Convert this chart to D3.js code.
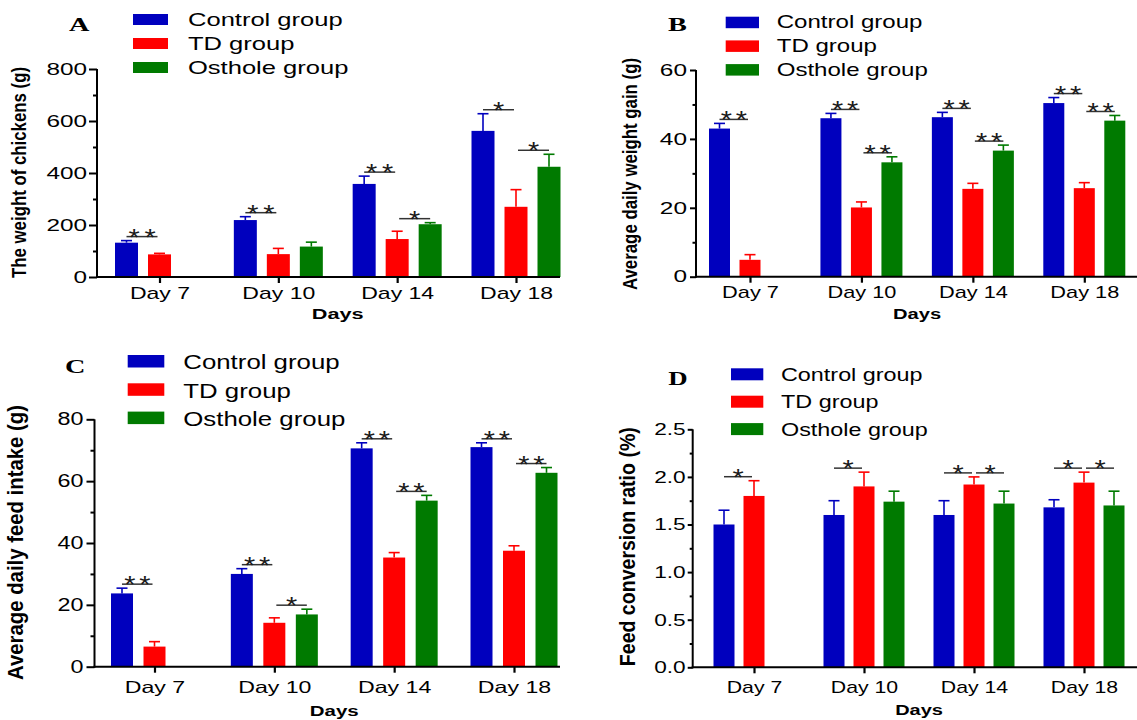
<!DOCTYPE html>
<html><head><meta charset="utf-8">
<script src="https://cdn.jsdelivr.net/npm/d3@7"></script>
<style>body{margin:0;background:#fff}svg{display:block}</style>
</head><body>
<svg id="c" width="1137" height="720"></svg>
<script>
// ---------------- DATA ----------------
const days = ["Day 7", "Day 10", "Day 14", "Day 18"];
const groups = ["Control group", "TD group", "Osthole group"];
const colors = ["#0000BE", "#FF0000", "#007A00"];

// A: body weight (g)
const weightControl = [132, 219, 358, 562];
const weightControlErr = [8, 13, 30, 66];
const weightTD = [87, 88, 146, 270];
const weightTDErr = [4, 22, 30, 66];
const weightOsthole = [null, 117, 203, 424];
const weightOstholeErr = [null, 17, 6, 48];
const weightSig = [[0, 0, 1, "**"], [1, 0, 1, "**"], [2, 0, 1, "**"], [2, 1, 2, "*"], [3, 0, 1, "*"], [3, 1, 2, "*"]];
const weightTicks = [0, 200, 400, 600, 800];
const weightMinor = [100, 300, 500, 700];

// B: average daily weight gain (g)
const gainControl = [43.0, 46.0, 46.3, 50.4];
const gainControlErr = [1.5, 1.4, 1.4, 1.6];
const gainTD = [4.9, 20.1, 25.5, 25.7];
const gainTDErr = [1.5, 1.6, 1.6, 1.6];
const gainOsthole = [null, 33.2, 36.6, 45.3];
const gainOstholeErr = [null, 1.6, 1.6, 1.5];
const gainSig = [[0, 0, 1, "**"], [1, 0, 1, "**"], [1, 1, 2, "**"], [2, 0, 1, "**"], [2, 1, 2, "**"], [3, 0, 1, "**"], [3, 1, 2, "**"]];
const gainTicks = [0, 20, 40, 60];
const gainMinor = [10, 30, 50];

// C: average daily feed intake (g)
const intakeControl = [23.7, 30.0, 70.6, 71.0];
const intakeControlErr = [1.7, 1.7, 1.8, 1.4];
const intakeTD = [6.5, 14.2, 35.3, 37.5];
const intakeTDErr = [1.6, 1.6, 1.6, 1.6];
const intakeOsthole = [null, 16.9, 53.7, 62.7];
const intakeOstholeErr = [null, 1.7, 1.7, 1.7];
const intakeSig = [[0, 0, 1, "**"], [1, 0, 1, "**"], [1, 1, 2, "*"], [2, 0, 1, "**"], [2, 1, 2, "**"], [3, 0, 1, "**"], [3, 1, 2, "**"]];
const intakeTicks = [0, 20, 40, 60, 80];
const intakeMinor = [10, 30, 50, 70];

// D: feed conversion ratio (%)
const fcrControl = [1.50, 1.60, 1.60, 1.68];
const fcrControlErr = [0.15, 0.15, 0.15, 0.08];
const fcrTD = [1.80, 1.90, 1.92, 1.94];
const fcrTDErr = [0.16, 0.15, 0.08, 0.11];
const fcrOsthole = [null, 1.74, 1.72, 1.70];
const fcrOstholeErr = [null, 0.11, 0.13, 0.15];
const fcrSig = [[0, 0, 1, "*"], [1, 0, 1, "*"], [2, 0, 1, "*"], [2, 1, 2, "*"], [3, 0, 1, "*"], [3, 1, 2, "*"]];
const fcrTicks = [0, 0.5, 1.0, 1.5, 2.0, 2.5];
const fcrMinor = [0.25, 0.75, 1.25, 1.75, 2.25];

// ---------------- DRAWING ----------------
const SANS = "'Liberation Sans', Arial, sans-serif";
const SERIF = "'Liberation Serif', 'Times New Roman', serif";
const svg = d3.select("#c");

function addText(parent, x, y, str, o) {
  const t = parent.append("text")
    .attr("transform", `translate(${x},${y}) scale(${o.sx || 1},1)` + (o.rotate ? ` rotate(${o.rotate})` : ""))
    .attr("font-family", o.family || SANS)
    .attr("font-size", o.fs)
    .attr("font-weight", o.weight || "normal")
    .attr("text-anchor", o.anchor || "start")
    .attr("fill", o.fill || "#000")
    .text(str);
  if (o.len) t.attr("textLength", o.len).attr("lengthAdjust", "spacingAndGlyphs");
  return t;
}

function drawPanel(p, series, errs, sig, ticks, minor, fmt) {
  const g = svg.append("g");
  const y = d3.scaleLinear().domain([0, ticks[ticks.length - 1]]).range([p.yBot, p.yTop]);
  const x = d3.scalePoint().domain(days).range(p.centers);
  const pad = 1 - p.bw / p.off;
  const xs = d3.scaleBand().domain(groups).range([-1.5 * p.off, 1.5 * p.off])
    .paddingInner(pad).paddingOuter(pad / 2);
  const cxOf = (di, gi) => x(days[di]) + xs(groups[gi]) + xs.bandwidth() / 2;

  const recs = [];
  groups.forEach((gr, gi) => days.forEach((d, di) => {
    if (series[gi][di] != null) recs.push({ gi, di, v: series[gi][di], e: errs[gi][di] });
  }));

  // error bars (upper only)
  const eb = g.append("g");
  eb.selectAll("line.v").data(recs).join("line")
    .attr("x1", r => cxOf(r.di, r.gi)).attr("x2", r => cxOf(r.di, r.gi))
    .attr("y1", r => y(r.v)).attr("y2", r => y(r.v + r.e))
    .attr("stroke", r => colors[r.gi]).attr("stroke-width", 1.6);
  eb.selectAll("line.c").data(recs).join("line")
    .attr("x1", r => cxOf(r.di, r.gi) - p.cap).attr("x2", r => cxOf(r.di, r.gi) + p.cap)
    .attr("y1", r => y(r.v + r.e)).attr("y2", r => y(r.v + r.e))
    .attr("stroke", r => colors[r.gi]).attr("stroke-width", 1.6);

  // bars
  g.append("g").selectAll("rect").data(recs).join("rect")
    .attr("x", r => x(days[r.di]) + xs(groups[r.gi]))
    .attr("width", xs.bandwidth())
    .attr("y", r => y(r.v))
    .attr("height", r => y(0) - y(r.v))
    .attr("fill", r => colors[r.gi]);

  // significance lines and stars
  const sg = g.append("g");
  sig.forEach(([di, a, b, lab]) => {
    const top = Math.max(series[a][di] + errs[a][di], series[b][di] + errs[b][di]);
    const ly = y(top) - 4;
    const xa = cxOf(di, a) + (a === 1 ? 2 : 0);
    const xb = cxOf(di, b) - (b === 1 ? 2 : 0);
    sg.append("line").attr("x1", xa).attr("x2", xb).attr("y1", ly).attr("y2", ly)
      .attr("stroke", "#333").attr("stroke-width", 1.5);
    const mid = (xa + xb) / 2;
    const n = lab.length;
    for (let k = 0; k < n; k++) {
      const sx = mid + (k - (n - 1) / 2) * p.starGap;
      addText(sg, sx, ly + p.starDy, "*", { fs: p.starFs, sx: 1.2, anchor: "middle", fill: "#1a1a1a" });
    }
  });

  // y axis
  const ya = g.append("g").attr("transform", `translate(${p.axisX},0)`)
    .call(d3.axisLeft(y).tickValues(ticks).tickSize(p.tickLen).tickPadding(p.tickPad).tickSizeOuter(0).tickFormat(fmt));
  ya.select(".domain").remove();
  ya.selectAll("line").attr("stroke", "#000").attr("stroke-width", 2);
  ya.selectAll("text").attr("font-size", p.tickFs).attr("font-family", SANS).attr("fill", "#000")
    .attr("x", -(p.tickLen + p.tickPad) / p.tickSx).attr("transform", `scale(${p.tickSx},1)`);
  const ym = g.append("g").attr("transform", `translate(${p.axisX},0)`)
    .call(d3.axisLeft(y).tickValues(minor).tickSize(p.minorLen).tickSizeOuter(0).tickFormat(""));
  ym.select(".domain").remove();
  ym.selectAll("line").attr("stroke", "#000").attr("stroke-width", 2);

  // x axis
  const xa = g.append("g").attr("transform", `translate(0,${p.yBot})`)
    .call(d3.axisBottom(x).tickSize(6).tickSizeOuter(0));
  xa.select(".domain").remove();
  xa.selectAll("line").attr("stroke", "#000").attr("stroke-width", 2.2);
  xa.selectAll("text").attr("font-size", p.xFs).attr("font-family", SANS).attr("fill", "#000")
    .attr("y", p.xLabelY - p.yBot).attr("dy", null).attr("transform", `scale(${p.xSx},1)`);

  // axis lines
  g.append("line").attr("x1", p.axisX).attr("x2", p.axisX).attr("y1", y.range()[1]).attr("y2", p.yBot + 1)
    .attr("stroke", "#000").attr("stroke-width", 2);
  g.append("line").attr("x1", p.axisX - 1).attr("x2", p.axisEnd).attr("y1", p.yBot).attr("y2", p.yBot)
    .attr("stroke", "#000").attr("stroke-width", 2);

  // axis titles
  addText(g, (p.centers[0] + p.centers[1]) / 2, p.daysY, "Days", { fs: p.daysFs, sx: p.daysSx, weight: "bold", anchor: "middle" });
  addText(g, p.titleX, p.titleY, p.title, { fs: p.titleFs, sx: p.titleSx, weight: "bold", anchor: "middle", rotate: -90, len: p.titleLen });

  // panel letter
  addText(g, p.letterX, p.letterY, p.letter, { fs: p.letterFs, sx: 1.45, weight: "bold", family: SERIF });

  // legend
  const lg = g.append("g");
  groups.forEach((gr, gi) => {
    const ty = p.legY + gi * p.legStep;
    lg.append("rect").attr("x", p.legX).attr("y", ty).attr("width", p.legW).attr("height", p.legH).attr("fill", colors[gi]);
    addText(lg, p.legTextX, ty + p.legBase, gr, { fs: p.legFs, sx: p.legSx });
  });
}

// ---------------- LAYOUT ----------------
const layoutA = {
  letter: "A", letterX: 69, letterY: 31, letterFs: 19.5,
  yTop: 69, yBot: 277, axisX: 97, axisEnd: 560, centers: [159.5, 516], off: 33, bw: 23, cap: 5.5,
  tickLen: 8, minorLen: 4, tickPad: 2, tickFs: 16.8, tickSx: 1.45,
  xLabelY: 299.5, xFs: 16, xSx: 1.44, daysY: 318.5, daysFs: 15.5, daysSx: 1.4,
  title: "The weight of chickens (g)", titleX: 26, titleY: 172.5, titleFs: 16.8, titleSx: 1.25, titleLen: 211,
  legX: 133, legW: 35, legH: 11, legY: 14, legStep: 24, legTextX: 188, legBase: 12, legFs: 17.5, legSx: 1.46,
  starFs: 24, starGap: 16, starDy: 9
};
const layoutB = {
  letter: "B", letterX: 668, letterY: 31, letterFs: 19.5,
  yTop: 70, yBot: 276.7, axisX: 696, axisEnd: 1137, centers: [750, 1084.3], off: 30.5, bw: 21, cap: 5.5,
  tickLen: 6, minorLen: 3.5, tickPad: 3, tickFs: 16.5, tickSx: 1.48,
  xLabelY: 298.5, xFs: 16, xSx: 1.36, daysY: 318.5, daysFs: 15.5, daysSx: 1.3,
  title: "Average daily weight gain (g)", titleX: 636.5, titleY: 174, titleFs: 16.8, titleSx: 1.25, titleLen: 232,
  legX: 725.7, legW: 33.3, legH: 11.5, legY: 16.7, legStep: 23.7, legTextX: 776.7, legBase: 11.5, legFs: 17.7, legSx: 1.36,
  starFs: 24, starGap: 15, starDy: 9
};
const layoutC = {
  letter: "C", letterX: 65, letterY: 372.7, letterFs: 19.5,
  yTop: 419.3, yBot: 666.7, axisX: 94.5, axisEnd: 560, centers: [154.5, 514], off: 32.5, bw: 22, cap: 5.5,
  tickLen: 8, minorLen: 4, tickPad: 3, tickFs: 17.7, tickSx: 1.32,
  xLabelY: 693, xFs: 16.3, xSx: 1.42, daysY: 716, daysFs: 15.5, daysSx: 1.32,
  title: "Average daily feed intake (g)", titleX: 23, titleY: 542.5, titleFs: 19.9, titleSx: 1.15, titleLen: 275,
  legX: 127.7, legW: 36.6, legH: 12.5, legY: 355, legStep: 28.3, legTextX: 183.3, legBase: 14.3, legFs: 20, legSx: 1.29,
  starFs: 24, starGap: 15, starDy: 9
};
const layoutD = {
  letter: "D", letterX: 668.3, letterY: 385, letterFs: 18.5,
  yTop: 429.3, yBot: 667.3, axisX: 692.7, axisEnd: 1137, centers: [754, 1084], off: 30, bw: 21, cap: 5.5,
  tickLen: 5, minorLen: 3, tickPad: 2, tickFs: 16.8, tickSx: 1.35,
  xLabelY: 693, xFs: 16, xSx: 1.33, daysY: 715, daysFs: 15.5, daysSx: 1.29,
  title: "Feed conversion ratio (%)", titleX: 635, titleY: 546.7, titleFs: 19.5, titleSx: 1.12, titleLen: 239,
  legX: 731, legW: 32.3, legH: 12, legY: 368.3, legStep: 27.4, legTextX: 781, legBase: 12.5, legFs: 18.7, legSx: 1.25,
  starFs: 24, starGap: 15, starDy: 9
};

drawPanel(layoutA, [weightControl, weightTD, weightOsthole], [weightControlErr, weightTDErr, weightOstholeErr], weightSig, weightTicks, weightMinor, d3.format("d"));
drawPanel(layoutB, [gainControl, gainTD, gainOsthole], [gainControlErr, gainTDErr, gainOstholeErr], gainSig, gainTicks, gainMinor, d3.format("d"));
drawPanel(layoutC, [intakeControl, intakeTD, intakeOsthole], [intakeControlErr, intakeTDErr, intakeOstholeErr], intakeSig, intakeTicks, intakeMinor, d3.format("d"));
drawPanel(layoutD, [fcrControl, fcrTD, fcrOsthole], [fcrControlErr, fcrTDErr, fcrOstholeErr], fcrSig, fcrTicks, fcrMinor, d3.format(".1f"));
</script>
</body></html>
